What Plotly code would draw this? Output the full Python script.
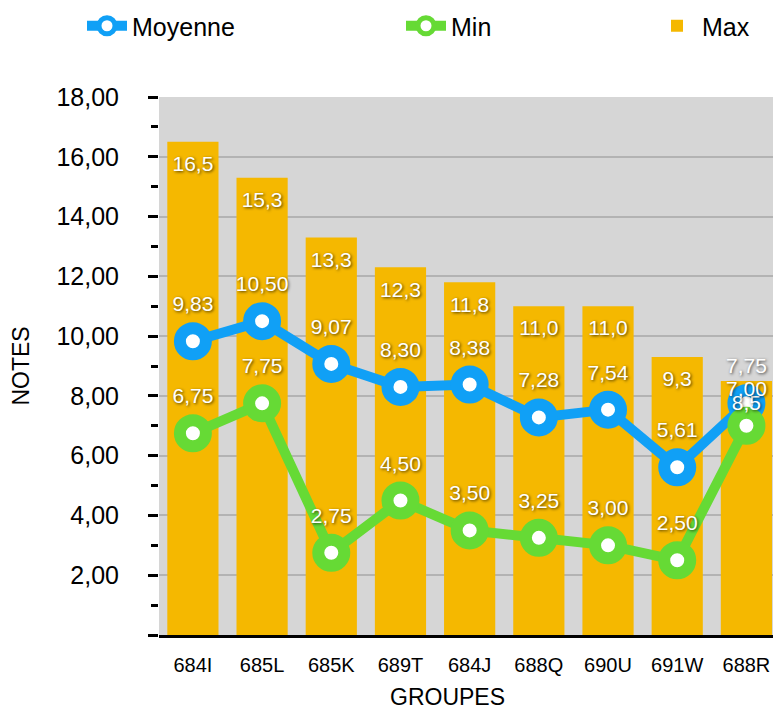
import plotly.graph_objects as go

categories = ["684I", "685L", "685K", "689T", "684J", "688Q", "690U", "691W", "688R"]
max_vals = [16.5, 15.3, 13.3, 12.3, 11.8, 11.0, 11.0, 9.3, 8.5]
moyenne_vals = [9.83, 10.50, 9.07, 8.30, 8.38, 7.28, 7.54, 5.61, 7.75]
min_vals = [6.75, 7.75, 2.75, 4.50, 3.50, 3.25, 3.00, 2.50, 7.00]
y_ticks = [0, 2, 4, 6, 8, 10, 12, 14, 16, 18]
y_tick_labels = ["", "2,00", "4,00", "6,00", "8,00", "10,00", "12,00", "14,00", "16,00", "18,00"]

FONT = "Liberation Sans, Arial, Helvetica, sans-serif"
SHADOW = "1px 1px 3px rgba(0,0,0,0.7)"
BLUE = "#10a0f6"
GREEN = "#66da35"
GOLD = "#f5b800"
LABEL_FONT = dict(family=FONT, size=21, color="white", shadow=SHADOW)

fig = go.Figure()
fig.add_trace(go.Bar(
    x=categories, y=max_vals, name="Max", legend="legend3",
    marker=dict(color=GOLD, line=dict(width=0)),
))
fig.add_trace(go.Scatter(
    x=categories, y=moyenne_vals, name="Moyenne", legend="legend",
    mode="lines+markers",
    line=dict(color=BLUE, width=10),
    marker=dict(size=26, color="white", line=dict(color=BLUE, width=12)),
    cliponaxis=False,
))
fig.add_trace(go.Scatter(
    x=categories, y=min_vals, name="Min", legend="legend2",
    mode="lines+markers",
    line=dict(color=GREEN, width=10),
    marker=dict(size=26, color="white", line=dict(color=GREEN, width=12)),
    cliponaxis=False,
))
# data labels (drawn last so they sit on top)
fig.add_trace(go.Scatter(
    x=categories, y=max_vals, mode="markers+text", showlegend=False,
    marker=dict(size=20, opacity=0), texttemplate="%{y:.1f}",
    textposition="bottom center", textfont=LABEL_FONT, cliponaxis=False,
    hoverinfo="skip",
))
fig.add_trace(go.Scatter(
    x=categories, y=moyenne_vals, mode="markers+text", showlegend=False,
    marker=dict(size=38, opacity=0), texttemplate="%{y:.2f}",
    textposition="top center", textfont=LABEL_FONT, cliponaxis=False,
    hoverinfo="skip",
))
fig.add_trace(go.Scatter(
    x=categories, y=min_vals, mode="markers+text", showlegend=False,
    marker=dict(size=38, opacity=0), texttemplate="%{y:.2f}",
    textposition="top center", textfont=LABEL_FONT, cliponaxis=False,
    hoverinfo="skip",
))

W, H = 773, 705  # page body adds an 8px offset
L, T, B = 151, 89, 78
leg_common = dict(orientation="h", xref="container", yref="container",
                  yanchor="middle", y=1 - 18 / H, itemwidth=40,
                  font=dict(family=FONT, size=25, color="black"),
                  bgcolor="rgba(0,0,0,0)")

fig.update_layout(
    width=W, height=H,
    margin=dict(l=L, r=0, t=T, b=B, autoexpand=False),
    paper_bgcolor="white", plot_bgcolor="#d6d6d6",
    separators=", ",
    bargap=0.26,
    showlegend=True,
    legend=dict(x=74 / W, **leg_common),
    legend2=dict(x=393 / W, **leg_common),
    legend3=dict(x=644 / W, **leg_common),
    font=dict(family=FONT, color="black"),
    xaxis=dict(
        tickfont=dict(family=FONT, size=20),
        showgrid=False, showline=True, linecolor="black", linewidth=2.5,
        ticks="", ticklabelstandoff=10, range=[-0.49, 8.5], automargin=False,
    ),
    yaxis=dict(
        title=dict(text="NOTES", font=dict(family=FONT, size=23), standoff=22),
        range=[0, 18], tickvals=y_ticks, ticktext=y_tick_labels,
        tickfont=dict(family=FONT, size=25),
        ticks="outside", ticklen=10, tickwidth=2.5, tickcolor="black",
        ticklabelstandoff=24,
        showgrid=True, gridcolor="#b3b3b3", gridwidth=2,
        showline=False, zeroline=False, automargin=False,
        minor=dict(dtick=1, ticks="outside", ticklen=7, tickwidth=2.5,
                   tickcolor="black", showgrid=False),
    ),
    annotations=[dict(
        text="GROUPES", xref="paper", yref="paper",
        x=(447 - 8 - L) / (W - L), y=0, yshift=-62,
        xanchor="center", yanchor="middle", showarrow=False,
        font=dict(family=FONT, size=23, color="black"),
    )],
)

fig.write_html("out.html")
